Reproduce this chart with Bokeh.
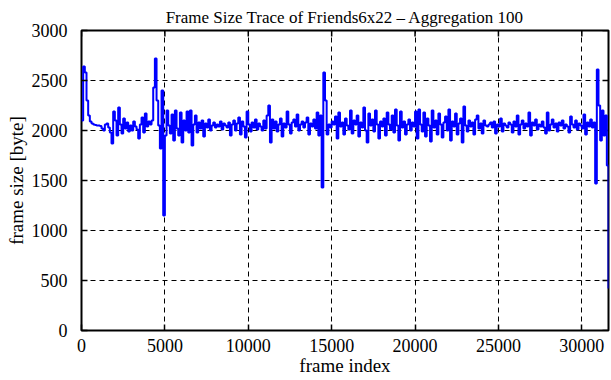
from bokeh.plotting import figure
from bokeh.models import Range1d, FixedTicker, LinearAxis, Title
from bokeh.embed import file_html
from bokeh.resources import INLINE

# frame-size trace aggregated over 100 frames (one value per 100 frames)
frame_size = [
    2100, 2640, 2580, 2300, 2150, 2090, 2070, 2060, 2055, 2050,
    2050, 2045, 2020, 2000, 2060, 2070, 2030, 1980, 1870, 2190,
    2100, 1950, 2230, 2060, 1970, 2120, 2020, 2080, 1990, 2050,
    2000, 2090, 2040, 2010, 1920, 2060, 2130, 1980, 2170, 2040,
    2090, 2060, 2100, 2430, 2720, 2300, 2050, 1820, 2400, 1150,
    1950, 2200, 2050, 1970, 2160, 1900, 2200, 2020, 1950, 2180,
    1880, 2100, 2000, 2190, 1980, 2200, 1850, 2060, 2150, 1980,
    2080, 2020, 2100, 1940, 2070, 2030, 2110, 2000, 2050, 2080,
    2030, 2060, 2040, 2090, 2010, 2070, 2050, 2030, 2080, 1950,
    2060, 2100, 2000, 2070, 2130, 1960, 2090, 2040, 1930, 2190,
    2060, 1990, 2080, 2030, 2110, 2010, 2070, 2040, 2000, 2100,
    2020, 2150, 2250, 1880, 2110, 2020, 2090, 1990, 2060, 2120,
    1940, 2070, 2030, 2190, 2060, 1970, 2080, 2110, 2040, 2160,
    2000, 2060, 2090, 2030, 2080, 2130, 1960, 2070, 2040, 2110,
    2020, 2180, 1950, 2150, 1430, 2580, 2300, 1960, 2060, 2030,
    2090, 2060, 2140, 1920, 2180, 2040, 2080, 1960, 2120, 2050,
    2010, 2200, 1970, 2100, 2060, 2150, 1940, 2080, 2030, 2230,
    2000, 1880, 2170, 2050, 2110, 1990, 2200, 2060, 1920, 2090,
    2040, 2120, 1950, 2180, 2060, 2010, 2150, 1980, 2210, 2050,
    1900, 2190, 2030, 2090, 1960, 2060, 2110, 2000, 2080, 2040,
    2190, 1920, 2210, 2060, 1990, 2180, 1940, 2120, 2050, 1890,
    2200, 2030, 2100, 1960, 2170, 2060, 1930, 2080, 2140, 2000,
    2210, 1900, 2090, 2040, 2170, 1960, 2070, 2120, 1880, 2240,
    2050, 1990, 2100, 2040, 2080, 1960, 2110, 2150, 2020, 2070,
    1970, 2100, 2050, 2040, 2060, 2080, 2030, 2090, 1970, 2060,
    2040, 2120, 1990, 2070, 2050, 2030, 2080, 2060, 1980, 2090,
    2040, 2150, 1960, 2060, 2100, 2020, 2070, 2040, 2180, 1950,
    2080, 2050, 2110, 2010, 2060, 2040, 2090, 2030, 1970, 2180,
    2000, 2060, 2110, 2030, 2070, 1990, 2080, 2050, 2100, 2020,
    2060, 2040, 1980, 2140, 2060, 2030, 2100, 2010, 2070, 2050,
    2020, 2160, 1960, 2080, 2040, 2110, 2030, 2080, 1470, 2610,
    2250, 1900, 2200, 1950, 2150, 1650, 420,
]
aggregation = 100
frame_index = [i * aggregation for i in range(len(frame_size))]

x_ticks = [0, 5000, 10000, 15000, 20000, 25000, 30000]
y_ticks = [0, 500, 1000, 1500, 2000, 2500, 3000]
x_max, y_max = 31600, 3000

FONT = "Liberation Serif"
FRAME_W, FRAME_H = 527, 300
TICK_PX = 6

p = figure(frame_width=FRAME_W, frame_height=FRAME_H,
           output_backend="svg", toolbar_location=None,
           x_range=Range1d(0, x_max), y_range=Range1d(0, y_max),
           min_border_left=81, min_border_right=3, min_border_top=30,
           min_border_bottom=48, x_axis_location=None, y_axis_location=None)

p.title = Title(text="Frame Size Trace of Friends6x22 \u2013 Aggregation 100",
                align="center", text_font=FONT, text_font_size="17px",
                text_font_style="normal", text_color="black",
                offset=0, standoff=8)

p.background_fill_color = "white"
p.border_fill_color = "white"
p.outline_line_color = "black"
p.outline_line_width = 2


def style_axis(ax):
    ax.axis_line_color = None
    ax.major_tick_in = TICK_PX
    ax.major_tick_out = 0
    ax.major_tick_line_width = 1.5
    ax.minor_tick_in = 0
    ax.minor_tick_out = 0
    ax.major_label_text_font = FONT
    ax.major_label_text_font_size = "18px"
    ax.major_label_text_color = "black"
    ax.axis_label_text_font = FONT
    ax.axis_label_text_font_size = "19px"
    ax.axis_label_text_font_style = "normal"
    ax.axis_label_text_color = "black"


xb = LinearAxis(axis_label="frame index")
style_axis(xb)
xb.ticker = FixedTicker(ticks=x_ticks)
xb.major_label_standoff = 8
xb.axis_label_standoff = 0
p.add_layout(xb, "below")

yl = LinearAxis(axis_label="frame size [byte]")
style_axis(yl)
yl.ticker = FixedTicker(ticks=y_ticks)
yl.major_label_standoff = 14
yl.axis_label_standoff = 2
p.add_layout(yl, "left")

# mirrored inward ticks on the top and right frame edges
dx = TICK_PX * x_max / FRAME_W
dy = TICK_PX * y_max / FRAME_H
p.segment(x0=x_ticks, y0=[y_max] * len(x_ticks), x1=x_ticks,
          y1=[y_max - dy] * len(x_ticks), line_color="black", line_width=1.5)
p.segment(x0=[x_max] * len(y_ticks), y0=y_ticks, x1=[x_max - dx] * len(y_ticks),
          y1=y_ticks, line_color="black", line_width=1.5)

p.xgrid.ticker = FixedTicker(ticks=x_ticks[1:])
p.ygrid.ticker = FixedTicker(ticks=y_ticks[1:-1])
for g in (p.xgrid, p.ygrid):
    g.grid_line_color = "black"
    g.grid_line_dash = "5 4"
    g.grid_line_width = 1

p.step(frame_index, frame_size, mode="after", line_color="#0000ff", line_width=2)

open("out.html", "w").write(file_html(p, INLINE))
